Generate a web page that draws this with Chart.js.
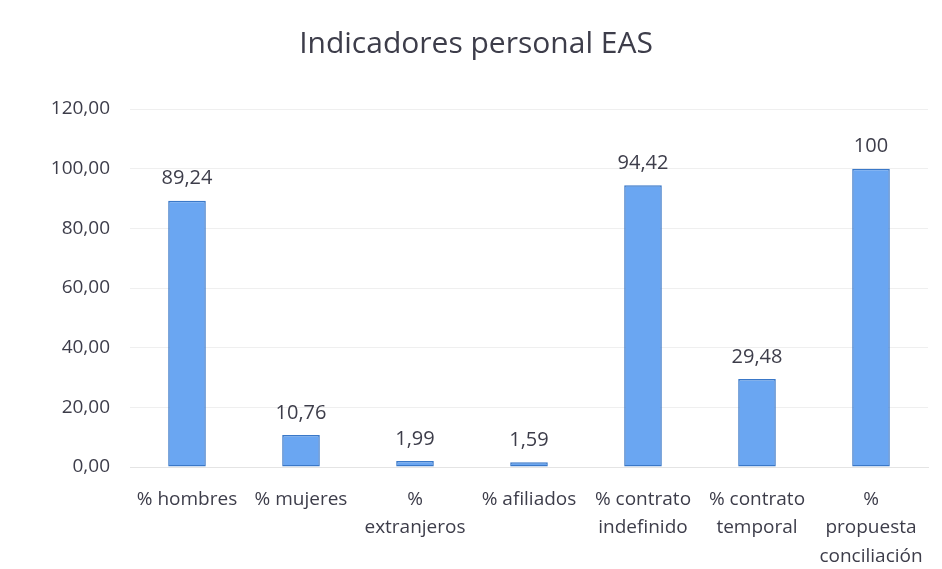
<!DOCTYPE html>
<html>
<head>
<meta charset="utf-8">
<script src="https://cdn.jsdelivr.net/npm/chart.js@4.4.0/dist/chart.umd.min.js"></script>
<style>
html,body{margin:0;padding:0;background:#fff;}
#wrap{width:942px;height:569px;position:relative;}
</style>
</head>
<body>
<div id="wrap"><canvas id="c" width="942" height="569"></canvas></div>
<script>
const categories = [
  ['% hombres'],
  ['% mujeres'],
  ['%', 'extranjeros'],
  ['% afiliados'],
  ['% contrato', 'indefinido'],
  ['% contrato', 'temporal'],
  ['%', 'propuesta', 'conciliación']
];
const values = [89.24, 10.76, 1.99, 1.59, 94.42, 29.48, 100];
const valueLabels = ['89,24', '10,76', '1,99', '1,59', '94,42', '29,48', '100'];
const yTicks = [0, 20, 40, 60, 80, 100, 120];

const FONT = '"Open Sans", Lato, sans-serif';
const TEXT = '#3d3d4a';

const valueLabelPlugin = {
  id: 'valueLabels',
  afterDatasetsDraw(chart) {
    const ctx = chart.ctx;
    const meta = chart.getDatasetMeta(0);
    ctx.save();
    ctx.font = '20px ' + FONT;
    ctx.fillStyle = TEXT;
    ctx.textAlign = 'center';
    ctx.textBaseline = 'bottom';
    meta.data.forEach((bar, i) => {
      ctx.fillText(valueLabels[i], bar.x, bar.y - 12);
    });
    ctx.restore();
  }
};

new Chart(document.getElementById('c'), {
  type: 'bar',
  data: {
    labels: categories,
    datasets: [{
      data: values,
      backgroundColor: '#6aa6f2',
      borderColor: '#3a78c8',
      borderWidth: 1.5,
      borderSkipped: false,
      categoryPercentage: 1,
      barPercentage: 0.33
    }]
  },
  options: {
    responsive: false,
    animation: false,
    layout: { padding: { top: 26, right: 14, left: 24, bottom: 0 } },
    plugins: {
      legend: { display: false },
      tooltip: { enabled: false },
      title: {
        display: true,
        text: 'Indicadores personal EAS',
        color: TEXT,
        font: { family: FONT, size: 30, weight: 'normal' },
        padding: { top: 0, bottom: 47 }
      }
    },
    scales: {
      y: {
        min: 0,
        max: 120,
        afterBuildTicks(scale) { scale.ticks = yTicks.map(v => ({ value: v })); },
        afterFit(scale) { scale.width = 106; },
        ticks: {
          color: TEXT,
          padding: 20,
          font: { family: FONT, size: 19 },
          callback: v => v.toFixed(2).replace('.', ',')
        },
        grid: { color: '#efefef', drawTicks: false },
        border: { display: false }
      },
      x: {
        afterFit(scale) { scale.height = 102; },
        ticks: {
          color: TEXT,
          padding: 10,
          maxRotation: 0,
          autoSkip: false,
          font: { family: FONT, size: 19, lineHeight: 1.5 }
        },
        grid: { display: false },
        border: { color: '#e4e4e4' }
      }
    }
  },
  plugins: [valueLabelPlugin]
});
</script>
</body>
</html>
